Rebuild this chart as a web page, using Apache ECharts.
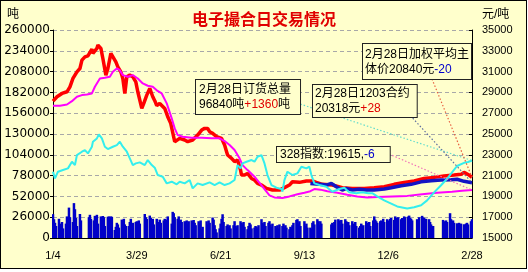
<!DOCTYPE html>
<html><head><meta charset="utf-8">
<script src="https://cdn.jsdelivr.net/npm/echarts@6.0.0/dist/echarts.min.js"></script>
<style>
html,body{margin:0;padding:0;background:#fff;}
#frame{position:absolute;left:0;top:0;width:527px;height:269px;box-sizing:border-box;border:1px solid #000;background:#ffffcc;}
#chart{position:absolute;left:0;top:0;width:528px;height:272px;}
</style></head><body>
<div id="frame"></div><div id="chart"></div>
<script>
// ---------- data ----------
const titleText = '电子撮合日交易情况';
const leftUnit = '吨';
const rightUnit = '元/吨';
const xTickLabels = ['1/4', '3/29', '6/21', '9/13', '12/6', '2/28'];
const startDate = [2011, 0, 4];
const dayCount = 420;          // calendar days from 1/4 to 2/28 of next year
const tickEveryDays = 84;
const holidays = ['2011-02-02','2011-02-03','2011-02-04','2011-02-07','2011-02-08',
  '2011-04-04','2011-04-05','2011-05-02','2011-06-06','2011-09-12',
  '2011-10-03','2011-10-04','2011-10-05','2011-10-06','2011-10-07',
  '2012-01-02','2012-01-03','2012-01-23','2012-01-24','2012-01-25','2012-01-26','2012-01-27'];

// daily trading volume (tons), in trading-day order
const volume = [
  29800,23500,19000,15000,
  24000,18000,13000,20000,12000,
  18000,27000,14000,38000,26000,
  20000,43600,36000,25000,15000,
  30000,22000,
  26000,29000,24000,
  22000,27700,25000,29000,18000,
  27000,25000,27500,26000,15000,
  26500,27000,26000,27000,26500,
  10000,14000,19000,17000,13000,
  23000,20000,24000,17000,15000,
  15000,20000,24000,12000,19000,
  20000,21000,19000,22000,18000,
  30000,26000,24000,
  28000,25000,21000,24000,17000,
  24000,15000,20000,23000,19000,
  22000,24000,23000,20000,27000,
  18000,32700,31000,26000,
  24000,27000,21000,23000,20000,
  21000,20000,22000,18000,21000,
  22000,21000,22500,19000,16000,
  21000,18000,22000,11000,14000,
  21000,17000,22000,19000,
  25600,23000,16000,11000,7000,
  12000,18000,24000,29700,20000,
  15000,17000,14000,16000,12000,
  16000,21000,15000,13000,16000,
  21000,19000,17000,20000,14000,
  11000,15000,19000,17000,12000,
  13000,15000,14000,12000,16000,
  23500,19000,17000,20000,15000,
  19000,21000,17000,14000,18000,
  15000,13000,16000,12000,17000,
  15000,18000,14000,16000,13000,
  11000,14000,13000,16000,19000,
  22600,23500,18000,21000,15000,
  21000,15000,18000,13000,
  13000,11000,19000,21000,17000,
  23500,21000,16000,21000,18000,
  17000,19000,16000,20000,23000,
  23500,22000,17000,22600,18000,
  23500,21000,18000,20000,16000,
  21000,18000,17000,20000,15000,
  13000,15000,18000,14000,16000,
  21000,19000,17000,20000,15000,
  22000,27000,23000,21000,19000,
  21000,22000,19000,24000,20000,
  23500,22000,20000,24000,25000,
  22600,27000,25000,24000,26000,
  23500,25000,22000,27000,26000,
  26800,28000,25000,24000,22000,
  23500,21000,26000,
  27700,26000,25000,23500,24000,
  23500,20000,17000,15000,15000,
  22600,21000,19000,22000,20000,
  31000,23500,21000,22000,19000,
  18400,17000,19000,16000,18000,
  17200,16000,18000,19000,17000,
  21000,23500
];

// [calendar day, value]
const orderVolume = [[0,82860],[2,74540],[5,82860],[10,84950],[15,87030],[19,95350],[22,91190],[24,103680],[29,107850],[32,109930],[35,105760],[39,114090],[40,120340],[44,124500],[46,129500],[49,124500],[52,114090],[55,111180],[60,114090],[64,116180],[67,120340],[70,114090],[74,107850],[77,99520],[80,91190],[83,93270],[87,94520],[92,91190],[95,97440],[99,91190],[102,87860],[105,78700],[110,76620],[114,68290],[119,70370],[124,67040],[127,70370],[132,68290],[137,72450],[140,62040],[145,68290],[150,66210],[157,69540],[162,66210],[167,69540],[172,66210],[177,68290],[182,72450],[185,91190],[188,87030],[190,93270],[194,95350],[199,97440],[202,95350],[205,101600],[209,103680],[212,93270],[215,78700],[219,66210],[224,62880],[229,61210],[230,57880],[232,72450],[235,82860],[240,78700],[245,80780],[249,89110],[254,87030],[257,89110],[259,78700],[262,68290],[267,66210],[274,64130],[280,57880],[287,61210],[292,62880],[297,57050],[304,55800],[310,57050],[316,55800],[320,56000],[325,52000],[332,47000],[339,43000],[345,39500],[355,37000],[362,38500],[369,41000],[375,47000],[382,57000],[389,66000],[395,74000],[400,82000],[405,90000],[412,94000],[416,95000],[420,96840]];

const weightedPrice = [[0,28160],[4,28580],[9,28900],[14,29060],[17,29540],[20,30340],[24,30980],[27,31300],[29,32100],[32,32420],[35,32520],[39,33160],[40,32750],[44,33230],[45,33550],[48,33230],[50,32260],[53,30660],[55,31300],[58,32750],[60,32590],[63,31940],[65,31460],[68,30980],[70,30340],[72,28900],[74,30500],[77,30660],[80,30500],[83,30020],[85,29060],[89,27460],[91,27940],[94,28740],[97,29380],[100,28580],[102,28200],[104,27720],[107,27940],[112,27460],[115,26660],[118,26020],[120,25860],[122,24260],[124,24100],[127,24580],[132,24420],[135,24260],[140,24420],[145,24900],[149,25380],[152,25540],[155,25540],[157,25220],[160,25060],[164,24740],[169,24580],[172,23940],[174,23300],[175,22980],[179,22660],[182,22340],[185,22500],[188,21530],[189,21050],[192,21050],[195,21210],[199,20730],[202,20570],[205,20250],[209,20090],[214,19770],[220,19610],[227,19610],[232,19840],[237,20090],[240,20410],[247,20350],[254,20480],[260,20480],[264,20350],[270,20160],[280,20090],[290,19840],[300,19770],[312,19770],[322,19840],[332,19930],[342,20160],[352,20350],[362,20480],[372,20730],[382,20830],[392,20960],[402,21050],[409,21120],[412,21310],[417,21050],[420,20840]];

const contract1203 = [[258,20250],[260,20350],[267,20160],[274,20090],[279,20250],[284,19930],[290,19610],[294,19770],[300,19610],[307,19680],[314,19610],[322,19610],[332,19710],[339,19840],[349,20030],[359,20160],[369,20400],[379,20500],[389,20580],[399,20600],[405,20650],[412,20450],[420,20318]];

const index328 = [[0,27720],[7,27720],[14,27840],[19,28160],[24,28580],[29,28740],[34,28800],[39,28900],[42,29540],[47,30340],[52,30410],[57,30500],[60,30980],[64,31300],[67,31140],[70,30660],[75,30500],[80,30660],[85,30340],[90,29860],[95,29640],[100,29540],[104,29200],[109,28900],[114,27940],[119,26500],[122,25540],[125,24900],[130,24740],[139,24640],[149,24640],[159,24580],[167,24580],[172,24320],[177,23940],[182,23460],[187,22660],[190,22010],[195,21530],[202,20890],[207,20300],[212,19700],[217,19100],[222,18900],[230,18850],[237,19000],[245,19200],[252,19350],[258,19500],[262,19700],[268,19650],[275,19500],[285,19350],[295,19150],[305,19000],[315,18900],[325,18950],[340,19000],[355,19050],[370,19200],[385,19350],[400,19450],[410,19550],[420,19615]];

const orderChange = '+1360';
const contractChange = '+28';
const weightedChange = '-20';
const indexChange = '-6';
const lastDateText = '2月28日';

// ---------- build ----------
function tradingDays() {
  const out = [];
  const base = Date.UTC(startDate[0], startDate[1], startDate[2]);
  for (let d = 0; d <= dayCount; d++) {
    const dt = new Date(base + d * 86400000);
    const wd = dt.getUTCDay();
    const key = dt.toISOString().slice(0, 10);
    if (wd === 0 || wd === 6 || holidays.includes(key)) continue;
    out.push(d);
  }
  return out;
}
const days = tradingDays();
const barData = [];
volume.forEach((v, i) => { if (days[i] !== undefined) barData.push([days[i], v]); });
const last = a => a[a.length - 1][1];

const chart = echarts.init(document.getElementById('chart'), null, {renderer: 'canvas'});
const numFont = 'Liberation Sans';
const option = {
  animation: false,
  backgroundColor: 'transparent',
  title: {text: titleText, left: 'center', top: 6,
    textStyle: {color: '#e00000', fontSize: 16, fontWeight: 'bold', fontFamily: '"Noto Sans CJK SC"'}},
  grid: {left: 53, right: 56, top: 30, bottom: 34},
  xAxis: {type: 'value', min: 0, max: dayCount, interval: tickEveryDays,
    axisLine: {lineStyle: {color: '#000'}}, axisTick: {show: false}, splitLine: {show: false},
    axisLabel: {formatter: v => xTickLabels[Math.round(v / tickEveryDays)], color: '#000', fontSize: 11, fontFamily: numFont, margin: 12}},
  yAxis: [
    {type: 'value', min: 0, max: 260000, interval: 26000, position: 'left',
      axisLine: {show: true, lineStyle: {color: '#000'}},
      axisTick: {show: true, length: 3, lineStyle: {color: '#000'}},
      axisLabel: {color: '#000', fontSize: 12, fontFamily: 'DejaVu Sans', margin: 3, formatter: v => String(v)},
      splitLine: {show: true, lineStyle: {color: '#a8a8a8', type: [4, 3]}}},
    {type: 'value', min: 15000, max: 35000, interval: 2000, position: 'right',
      axisLine: {show: true, lineStyle: {color: '#000'}},
      axisTick: {show: true, inside: true, length: 3, lineStyle: {color: '#000'}},
      axisLabel: {color: '#000', fontSize: 11, fontFamily: numFont, margin: 10, formatter: v => String(v)},
      splitLine: {show: false}}
  ],
  series: [
    {name: 'volume', type: 'bar', yAxisIndex: 0, data: barData, barWidth: 2.5, itemStyle: {color: '#0000c8'}, z: 1, silent: true},
    {name: 'weighted', type: 'line', yAxisIndex: 1, data: weightedPrice, showSymbol: false, lineStyle: {color: '#ff0000', width: 3.5}, z: 3, silent: true},
    {name: '1203', type: 'line', yAxisIndex: 1, data: contract1203, showSymbol: false, lineStyle: {color: '#1414c4', width: 3.5}, z: 4, silent: true},
    {name: '328', type: 'line', yAxisIndex: 1, data: index328, showSymbol: false, lineStyle: {color: '#ff00ff', width: 2}, z: 5, silent: true},
    {name: 'orders', type: 'line', yAxisIndex: 0, data: orderVolume, showSymbol: false, lineStyle: {color: '#33eeee', width: 2}, z: 6, silent: true}
  ]
};
chart.setOption(option);

const endPx = (arr, yi) => chart.convertToPixel({xAxisIndex: 0, yAxisIndex: yi}, [arr[arr.length - 1][0], last(arr)]);
const pW = endPx(weightedPrice, 1), pC = endPx(contract1203, 1), pI = endPx(index328, 1), pO = endPx(orderVolume, 0);

const boxFont = {fontSize: 12, fontFamily: '"Liberation Sans","Noto Sans CJK SC"'};
const rich = {r: Object.assign({fill: '#e00000'}, boxFont), b: Object.assign({fill: '#0000cc'}, boxFont), n: Object.assign({fill: '#000'}, boxFont)};
function box(id, x, y, text, pad) {
  return {type: 'text', id, left: x, top: y, z: 100, silent: true,
    style: Object.assign({text, rich, fill: '#000', lineHeight: 15, backgroundColor: '#ffffcc', borderColor: '#222', borderWidth: 1, padding: pad}, boxFont)};
}
function dline(id, x1, y1, p, color) {
  return {type: 'line', id, z: 50, silent: true, shape: {x1, y1, x2: p[0], y2: p[1]},
    style: {stroke: color, lineWidth: 1.2, lineDash: [1.5, 2]}};
}
chart.setOption({graphic: [
  {type: 'text', id: 'lu', left: 7, top: 9, style: Object.assign({text: leftUnit, fill: '#000'}, boxFont)},
  {type: 'text', id: 'ru', left: 482, top: 9, style: Object.assign({text: rightUnit, fill: '#000'}, boxFont)},
  dline('l1', 297, 103, pO, '#66dccc'),
  dline('l2', 408, 113, pC, '#6070a0'),
  dline('l3', 432, 79, pW, '#e86040'),
  dline('l4', 389, 154, pI, '#f070b8'),
  box('b1', 195, 79, lastDateText + '订货总量\n' + last(orderVolume) + '吨{r|' + orderChange + '}吨', [2, 9, 2, 3]),
  box('b2', 312, 84, lastDateText + '1203合约\n' + last(contract1203) + '元{r|' + contractChange + '}', [1, 7, 1, 2]),
  box('b3', 362, 43, lastDateText + '加权平均主\n体价' + last(weightedPrice) + '元{b|' + weightedChange + '}', [3, 2, 2, 2]),
  box('b4', 276, 146, '328指数:' + last(index328) + ',{b|' + indexChange + '}', [0, 15, 0, 3])
]});
</script>
</body></html>
